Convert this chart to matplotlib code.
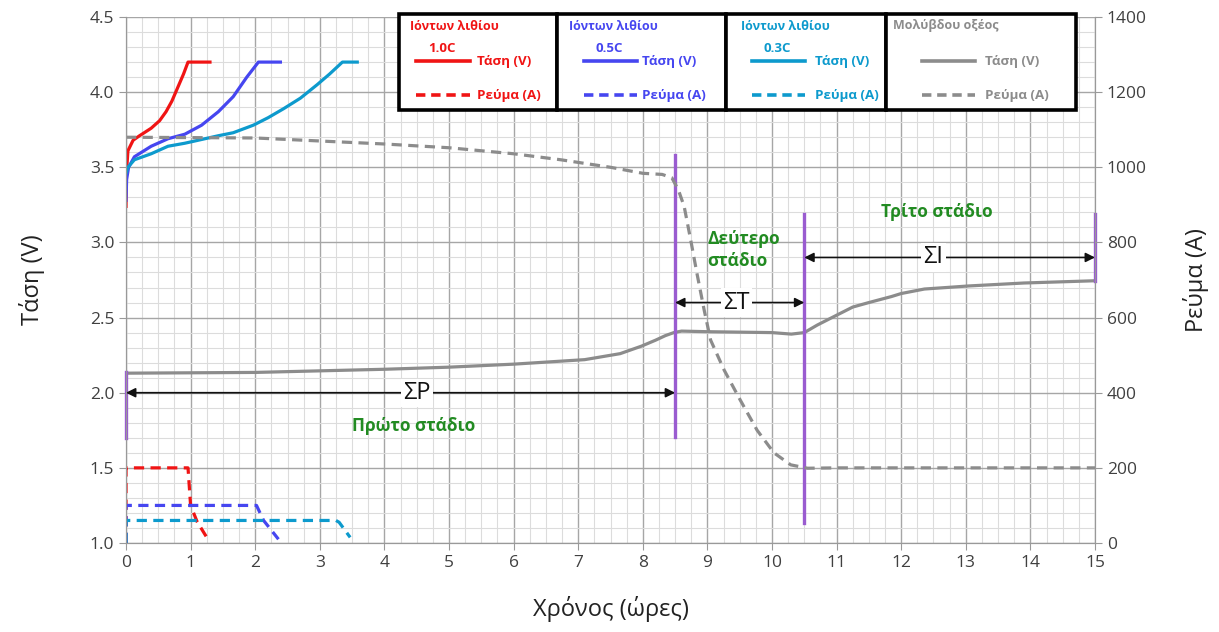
import numpy as np
import matplotlib
matplotlib.use("Agg")
import matplotlib.pyplot as plt
from matplotlib.lines import Line2D
from matplotlib.patches import Rectangle
from matplotlib.ticker import MultipleLocator, FormatStrFormatter

plt.rcParams['font.family'] = ['Open Sans', 'DejaVu Sans']

# --- data ---
# lithium ion, voltage (V) vs time (h)
li10_t = [0, 0.005, 0.03, 0.11, 0.21, 0.39, 0.52, 0.62, 0.71, 0.79, 0.89, 0.96, 1.3]
li10_v = [3.24, 3.45, 3.61, 3.68, 3.71, 3.76, 3.81, 3.87, 3.94, 4.02, 4.12, 4.20, 4.20]
li05_t = [0, 0.01, 0.04, 0.13, 0.39, 0.65, 0.91, 1.17, 1.43, 1.66, 1.87, 2.05, 2.39]
li05_v = [3.28, 3.42, 3.50, 3.57, 3.64, 3.69, 3.72, 3.78, 3.87, 3.97, 4.10, 4.20, 4.20]
li03_t = [0, 0.03, 0.13, 0.39, 0.65, 0.91, 1.43, 1.66, 1.97, 2.2, 2.44, 2.7, 2.96,
          3.15, 3.35, 3.58]
li03_v = [3.46, 3.50, 3.55, 3.59, 3.64, 3.66, 3.71, 3.73, 3.78, 3.83, 3.89, 3.96, 4.05,
          4.12, 4.20, 4.20]

# lithium ion, current (A)
li10_ct = [0, 0, 0.96, 1.0, 1.1, 1.25]
li10_c = [0, 200, 200, 100, 57, 15]
li05_ct = [0, 0, 2.02, 2.13, 2.36]
li05_c = [0, 100, 100, 60, 10]
li03_ct = [0, 0, 3.25, 3.3, 3.47]
li03_c = [0, 60, 60, 55, 15]

# lead acid
pb_t = [0, 2, 4, 5, 6, 7.1, 7.65, 7.98, 8.2, 8.35, 8.48, 8.6, 9, 10, 10.3, 10.5,
        10.7, 11.02, 11.25, 11.5, 11.85, 12.0, 12.36, 12.7, 13.03, 13.9, 15]
pb_v = [2.13, 2.135, 2.156, 2.17, 2.19, 2.22, 2.26, 2.31, 2.35, 2.38, 2.40, 2.41,
        2.406, 2.40, 2.39, 2.40, 2.45, 2.52, 2.57, 2.60, 2.64, 2.66, 2.69, 2.70,
        2.71, 2.73, 2.745]
pb_ct = [0, 2, 4, 5, 6, 6.73, 7.5, 8.0, 8.3, 8.45, 8.55, 8.64, 8.74, 8.84, 8.95,
         9.05, 9.26, 9.51, 9.77, 10.03, 10.29, 10.55, 11, 15]
pb_c = [1080, 1078, 1062, 1052, 1036, 1020, 1000, 984, 981, 972, 940, 896, 808,
        716, 620, 540, 460, 380, 300, 240, 208, 199, 200, 200]

# stage markers: (time, v_bottom, v_top)
stage_marks = [(0, 1.70, 2.14), (8.5, 1.707, 3.58), (10.5, 1.135, 3.19), (15, 2.745, 3.19)]
# arrows: (t_start, t_end, v, label, label_t)
spans = [(0, 8.5, 2.0, "ΣΡ", 4.5), (8.5, 10.5, 2.6, "ΣΤ", 9.45), (10.5, 15, 2.9, "ΣΙ", 12.5)]

RED = "#f01414"
BLUE = "#4646f0"
CYAN = "#0d9acd"
GRAY = "#8c8c8c"
PURPLE = "#9a5cd0"
GREEN = "#228b22"

W, H = 1219, 632
fig = plt.figure(figsize=(W / 100, H / 100), dpi=100)
ax = fig.add_axes([126 / W, 1 - 543 / H, (1095 - 126) / W, (543 - 17) / H])
ax2 = ax.twinx()

ax.set_xlim(0, 15)
ax.set_ylim(1.0, 4.5)
ax2.set_ylim(0, 1400)

ax.xaxis.set_major_locator(MultipleLocator(1))
ax.xaxis.set_minor_locator(MultipleLocator(0.25))
ax.yaxis.set_major_locator(MultipleLocator(0.5))
ax.yaxis.set_minor_locator(MultipleLocator(0.1))
ax.yaxis.set_major_formatter(FormatStrFormatter("%.1f"))
ax2.yaxis.set_major_locator(MultipleLocator(200))

ax.grid(which="major", color="#a6a6a6", lw=1.0)
ax.grid(which="minor", color="#dcdcdc", lw=0.8)
ax.set_axisbelow(True)

for a in (ax, ax2):
    for s in a.spines.values():
        s.set_color("#999999")
    a.spines["top"].set_visible(False)
    a.tick_params(which="major", length=5, color="#999999", labelsize=12.5,
                  labelcolor="#404040")
    a.tick_params(which="minor", length=0)

ax.set_xlabel("Χρόνος (ώρες)", fontsize=17, color="#222222", labelpad=18)
ax.set_ylabel("Τάση (V)", fontsize=17, color="#222222", labelpad=32)
ax2.set_ylabel("Ρεύμα (A)", fontsize=17, color="#222222", labelpad=26)

# voltage curves
lw = 2.3
ax.plot(li10_t, li10_v, color=RED, lw=lw, zorder=3)
ax.plot(li05_t, li05_v, color=BLUE, lw=lw, zorder=3)
ax.plot(li03_t, li03_v, color=CYAN, lw=lw, zorder=3)
ax.plot(pb_t, pb_v, color=GRAY, lw=lw, zorder=3)

# current curves
dash = (0, (3.2, 2.0))
ax2.plot(li10_ct, li10_c, color=RED, lw=lw, ls=dash)
ax2.plot(li05_ct, li05_c, color=BLUE, lw=lw, ls=dash)
ax2.plot(li03_ct, li03_c, color=CYAN, lw=lw, ls=dash)
ax2.plot(pb_ct, pb_c, color=GRAY, lw=lw, ls=dash)

# stage markers and arrows
for t, v0, v1 in stage_marks:
    ax.plot([t, t], [v0, v1], color=PURPLE, lw=2.4, zorder=4, clip_on=False)
for t0, t1, v, lab, lt in spans:
    ax.annotate("", xy=(t0, v), xytext=(t1, v),
                arrowprops=dict(arrowstyle="<|-|>", color="#111111", lw=1.2,
                                mutation_scale=14, shrinkA=0, shrinkB=0), zorder=5)
    ax.text(lt, v, lab, ha="center", va="center", fontsize=17, color="#111111",
            bbox=dict(fc="white", ec="none", pad=1.5), zorder=6)

ax.text(4.45, 1.78, "Πρώτο στάδιο", color=GREEN, fontsize=12.5, fontweight="bold",
        ha="center", va="center", zorder=6)
ax.text(9.0, 2.95, "Δεύτερο\nστάδιο", color=GREEN, fontsize=12.5, fontweight="bold",
        ha="left", va="center", linespacing=1.25, zorder=6)
ax.text(12.55, 3.2, "Τρίτο στάδιο", color=GREEN, fontsize=12.5, fontweight="bold",
        ha="center", va="center", zorder=6)


# --- legend boxes drawn in pixel positions ---
def fx(px):
    return px / W


def fy(py):
    return 1 - py / H


boxes = [
    (399, 557, "Ιόντων λιθίου", "1.0C", RED, 410, 416, 470, 477),
    (557, 726, "Ιόντων λιθίου", "0.5C", BLUE, 569, 584, 637, 642),
    (726, 886, "Ιόντων λιθίου", "0.3C", CYAN, 741, 752, 805, 815),
    (886, 1076, "Μολύβδου οξέος", None, GRAY, 893, 922, 975, 985),
]
for x0, x1, title, rate, col, tx, lx0, lx1, txt in boxes:
    fig.add_artist(Rectangle((fx(x0), fy(110)), fx(x1) - fx(x0), fy(14) - fy(110),
                             transform=fig.transFigure, fc="white", ec="black",
                             lw=2.6, zorder=10))
    fig.text(fx(tx), fy(26), title, color=col, fontsize=9, fontweight="bold",
             ha="left", va="center", zorder=11)
    if rate:
        fig.text(fx((lx0 + lx1) / 2 - 1), fy(48), rate, color=col, fontsize=9.5,
                 fontweight="bold", ha="center", va="center", zorder=11)
    fig.add_artist(Line2D([fx(lx0), fx(lx1)], [fy(61), fy(61)], color=col, lw=2.6,
                          transform=fig.transFigure, zorder=11))
    fig.add_artist(Line2D([fx(lx0), fx(lx1)], [fy(95), fy(95)], color=col, lw=2.6,
                          ls=(0, (2.6, 1.6)), transform=fig.transFigure, zorder=11))
    fig.text(fx(txt), fy(61), "Τάση (V)", color=col, fontsize=9.6, fontweight="bold",
             ha="left", va="center", zorder=11)
    fig.text(fx(txt), fy(95), "Ρεύμα (A)", color=col, fontsize=9.6, fontweight="bold",
             ha="left", va="center", zorder=11)

fig.savefig("out.png", dpi=100)
